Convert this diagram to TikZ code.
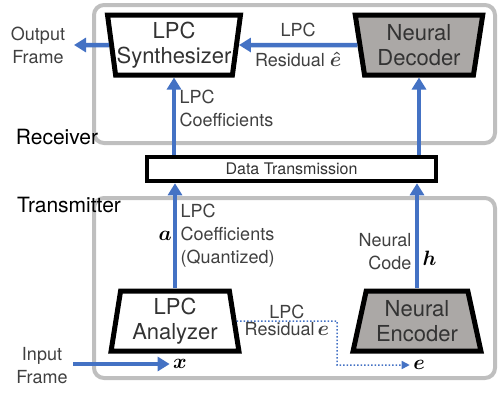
\documentclass[tikz,border=0pt]{standalone}
\usepackage{amsmath,amssymb}
\usepackage{fontspec}
\setmainfont{TeX Gyre Heros}
\usepackage{tikz}
\usetikzlibrary{arrows.meta}
\usetikzlibrary{shapes.geometric}
\definecolor{flowblue}{HTML}{4472C4}
\definecolor{boxgray}{HTML}{ABA8A6}
\definecolor{framegray}{HTML}{BFBFBF}
\newcommand{\sigsym}[1]{{\fontsize{21}{24}\selectfont$\boldsymbol{#1}$}}
\tikzset{
blk/.style={shape=trapezium, draw=black, line width=5pt, trapezium stretches=true,
  minimum width=128pt, minimum height=60pt, inner sep=1pt, align=center, text=black!80,
  font=\fontsize{22}{25}\selectfont},
lbl/.style={text=black!75, font=\fontsize{18}{23}\selectfont},
side/.style={text=black, font=\fontsize{21}{24}\selectfont},
frame/.style={draw=framegray, line width=4pt, rounded corners=10pt},
flow/.style={draw=flowblue, line width=4.5pt, -{Triangle[length=12pt,width=14pt]}},
dotflow/.style={draw=flowblue, line width=1.5pt, dotted, -{Triangle[length=8pt,width=8pt]}}}

\begin{document}
\begin{tikzpicture}[x=1pt, y=-1pt]
    \useasboundingbox (0,0) rectangle (498,400);

                \draw[frame] (94,5) rectangle (495,143);
                \draw[frame] (94,198) rectangle (495,378);
                \node[side] (rx) at (57,137) {Receiver};
                \node[side] (tx) at (69,205) {Transmitter};

                \node[blk, trapezium angle=99.5] (syn) at (174,45) {LPC\\Synthesizer};
                \node[blk, fill=boxgray, trapezium angle=99.5] (dec) at (419,45) {Neural\\Decoder};
                \node[blk, trapezium angle=81] (ana) at (175,321) {LPC\\Analyzer};
                \node[blk, fill=boxgray, trapezium angle=76] (enc) at (417,321) {Neural\\Encoder};
                \node[draw, line width=4.5pt, minimum width=289pt, minimum height=24pt, inner sep=0pt,
                      text=black!80, font=\fontsize{16}{20}\selectfont] (dt) at (291.5,169) {Data Transmission};

                \coordinate (outp) at (74,45);
                \coordinate (inp) at (73,364);
                \coordinate (bend) at (337,321);
                \node[lbl, align=center] (of) at (38,45) {Output\\Frame};
                \node[lbl, align=center] (if) at (42,366) {Input\\Frame};
                \node (x) at (180,364) {\sigsym{x}};
                \node (e) at (419,365) {\sigsym{e}};

                \draw[flow] (syn.west) -- (outp);
                \draw[flow] (dec.west) -- (syn.east) node[midway, above=3pt, lbl] {LPC}
                    node[midway, below=2pt, lbl] {Residual \sigsym{\hat{e}}};
                \draw[flow] (dt.north -| syn.south) -- (syn.south) node[pos=0.6, right, lbl, align=left] {LPC\\Coefficients};
                \draw[flow] (dt.north -| dec.south) -- (dec.south);
                \draw[flow] (ana.north) -- (dt.south -| ana.north) node[midway, right, lbl, align=left] {LPC\\Coefficients\\(Quantized)}
                    node[midway, left, inner sep=1pt] {\sigsym{a}};
                \draw[flow] (enc.north) -- (dt.south -| enc.north) node[pos=0.35, left, lbl, align=right] {Neural\\Code}
                    node[pos=0.29, right] {\sigsym{h}};
                \draw[flow] (inp) -- (x.west);
                \draw[dotflow] (ana.east) -- (bend) node[midway, above, inner sep=1pt, lbl] {LPC}
                    node[midway, below, inner sep=1pt, lbl] {Residual\,\sigsym{e}} |- (e.west);

            \end{tikzpicture}
\end{document}
